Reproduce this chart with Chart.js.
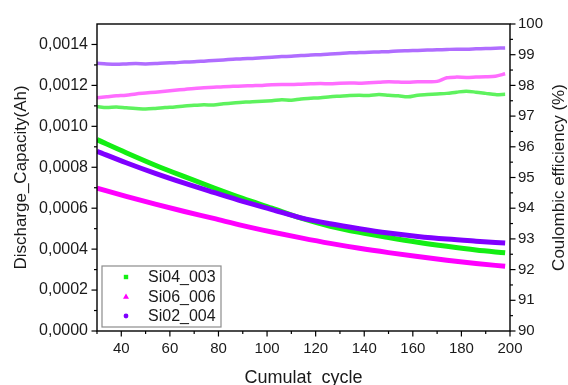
<!DOCTYPE html>
<html>
<head>
<meta charset="utf-8">
<script src="https://cdn.jsdelivr.net/npm/chart.js@4.4.1/dist/chart.umd.min.js"></script>
<style>
  html, body { margin: 0; padding: 0; background: #fff; }
  canvas { display: block; }
</style>
</head>
<body>
<canvas id="chart" width="568" height="385"></canvas>
<script>
// Cell names
const seriesNames = ['Si04_003', 'Si06_006', 'Si02_004'];

// Discharge capacity (Ah) vs cumulative cycle
const capCycles = [30, 42, 54, 66, 78, 90, 102, 114, 126, 138, 150, 162, 174, 186, 198];
const capSi04 = [0.000935, 0.000871, 0.000810, 0.000754, 0.000700, 0.000648, 0.000600, 0.000551, 0.000512, 0.000482, 0.000457, 0.000434, 0.000414, 0.000396, 0.000382];
const capSi06 = [0.000698, 0.000658, 0.000620, 0.000584, 0.000550, 0.000515, 0.000484, 0.000455, 0.000428, 0.000404, 0.000383, 0.000364, 0.000346, 0.000330, 0.000316];
const capSi02 = [0.000878, 0.000822, 0.000770, 0.000722, 0.000677, 0.000633, 0.000593, 0.000553, 0.000524, 0.000500, 0.000479, 0.000462, 0.000449, 0.000439, 0.000430];

// Coulombic efficiency (%) vs cumulative cycle
const ceCycles = [30, 34, 38, 42, 46, 50, 54, 58, 62, 66, 70, 74, 78, 82, 86, 90, 94, 98, 102, 106, 110, 114, 118, 122, 126, 130, 134, 138, 142, 146, 150, 154, 158, 162, 166, 170, 174, 178, 182, 186, 190, 194, 198];
const ceSi04 = [97.31, 97.28, 97.30, 97.27, 97.25, 97.23, 97.25, 97.28, 97.30, 97.33, 97.35, 97.37, 97.36, 97.40, 97.43, 97.45, 97.47, 97.48, 97.50, 97.53, 97.52, 97.56, 97.58, 97.60, 97.63, 97.65, 97.67, 97.68, 97.67, 97.70, 97.68, 97.66, 97.63, 97.68, 97.70, 97.72, 97.74, 97.78, 97.81, 97.78, 97.74, 97.70, 97.71];
const ceSi06 = [97.60, 97.63, 97.66, 97.68, 97.72, 97.75, 97.78, 97.81, 97.84, 97.87, 97.90, 97.92, 97.94, 97.96, 97.97, 97.98, 97.99, 98.00, 98.02, 98.03, 98.03, 98.04, 98.05, 98.06, 98.05, 98.07, 98.08, 98.07, 98.09, 98.10, 98.12, 98.11, 98.10, 98.12, 98.12, 98.13, 98.25, 98.27, 98.26, 98.27, 98.28, 98.30, 98.38];
const ceSi02 = [98.72, 98.70, 98.69, 98.70, 98.71, 98.70, 98.71, 98.73, 98.74, 98.76, 98.77, 98.79, 98.81, 98.83, 98.85, 98.87, 98.88, 98.90, 98.92, 98.94, 98.95, 98.97, 98.99, 99.00, 99.02, 99.04, 99.06, 99.07, 99.08, 99.09, 99.10, 99.12, 99.13, 99.14, 99.15, 99.16, 99.17, 99.18, 99.18, 99.19, 99.20, 99.21, 99.22];

// Axis tick values
const cycleTicks = [40, 60, 80, 100, 120, 140, 160, 180, 200];
const capTicks = [0, 0.0002, 0.0004, 0.0006, 0.0008, 0.0010, 0.0012, 0.0014];
const ceTicks = [90, 91, 92, 93, 94, 95, 96, 97, 98, 99, 100];

const colors = ['#14ee14', '#ff00ff', '#7f00ff'];
const ceColors = ['rgba(40,238,40,0.75)', 'rgba(255,60,255,0.75)', 'rgba(150,60,255,0.75)'];
const markerStyles = ['rect', 'triangle', 'circle'];

const FONT = "'Liberation Sans', Arial, sans-serif";
const TEXT = '#1a1a1a';
Chart.defaults.font.family = FONT;
Chart.defaults.color = TEXT;

const toPoints = (xs, ys) => xs.map((x, i) => ({ x, y: ys[i] }));

const capSeries = [capSi04, capSi06, capSi02];
const ceSeries = [ceSi04, ceSi06, ceSi02];

const datasets = [];
// purple on top, then green, then magenta
const drawOrder = [1, 2, 0];
capSeries.forEach((vals, i) => {
  datasets.push({
    label: seriesNames[i],
    data: toPoints(capCycles, vals),
    yAxisID: 'yCap',
    borderColor: colors[i],
    borderWidth: 5,
    pointRadius: 0,
    cubicInterpolationMode: 'monotone',
    order: drawOrder[i]
  });
});
ceSeries.forEach((vals, i) => {
  datasets.push({
    label: seriesNames[i] + ' CE',
    data: toPoints(ceCycles, vals),
    yAxisID: 'yCE',
    borderColor: ceColors[i],
    borderWidth: 3.5,
    pointRadius: 0,
    tension: 0.3,
    order: 3 + drawOrder[i]
  });
});

function midpoints(arr) {
  const out = [];
  for (let i = 0; i < arr.length - 1; i++) out.push((arr[i] + arr[i + 1]) / 2);
  return out;
}

// Frame plus outward major/minor tick marks
const axisFrame = {
  id: 'axisFrame',
  afterDatasetsDraw(chart) {
    const { ctx, chartArea: a, scales } = chart;
    ctx.save();
    ctx.strokeStyle = '#000';
    ctx.lineWidth = 1.4;
    ctx.strokeRect(a.left, a.top, a.right - a.left, a.bottom - a.top);
    ctx.lineWidth = 1.2;
    const seg = (x1, y1, x2, y2) => { ctx.beginPath(); ctx.moveTo(x1, y1); ctx.lineTo(x2, y2); ctx.stroke(); };
    const xMinor = [30].concat(midpoints(cycleTicks));
    cycleTicks.forEach(v => { const p = scales.x.getPixelForValue(v); seg(p, a.bottom, p, a.bottom + 5.5); });
    xMinor.forEach(v => { const p = scales.x.getPixelForValue(v); seg(p, a.bottom, p, a.bottom + 3); });
    capTicks.forEach(v => { const p = scales.yCap.getPixelForValue(v); seg(a.left, p, a.left - 5.5, p); });
    midpoints(capTicks).forEach(v => { const p = scales.yCap.getPixelForValue(v); seg(a.left, p, a.left - 3, p); });
    ceTicks.forEach(v => { const p = scales.yCE.getPixelForValue(v); seg(a.right, p, a.right + 5.5, p); });
    midpoints(ceTicks).forEach(v => { const p = scales.yCE.getPixelForValue(v); seg(a.right, p, a.right + 3, p); });
    ctx.restore();
  }
};

// Right-hand axis title, read bottom to top
const rightTitle = {
  id: 'rightTitle',
  afterDraw(chart) {
    const { ctx, chartArea: a } = chart;
    ctx.save();
    ctx.translate(559, (a.top + a.bottom) / 2);
    ctx.rotate(-Math.PI / 2);
    ctx.font = '17px ' + FONT;
    ctx.fillStyle = TEXT;
    ctx.textAlign = 'center';
    ctx.textBaseline = 'middle';
    ctx.fillText('Coulombic efficiency (%)', 0, 0);
    ctx.restore();
  }
};

// Legend box in the lower-left corner of the plot
const insetLegend = {
  id: 'insetLegend',
  afterDraw(chart) {
    const { ctx, chartArea: a } = chart;
    const x0 = a.left + 5, y0 = a.bottom - 65, w = 119, h = 61;
    ctx.save();
    ctx.fillStyle = '#fff';
    ctx.fillRect(x0, y0, w, h);
    ctx.strokeStyle = '#8c8c8c';
    ctx.lineWidth = 1.2;
    ctx.strokeRect(x0, y0, w, h);
    ctx.font = '16px ' + FONT;
    ctx.textBaseline = 'middle';
    ctx.textAlign = 'left';
    seriesNames.forEach((name, i) => {
      const cy = y0 + 11 + i * 19.5;
      const mx = x0 + 24;
      ctx.fillStyle = colors[i];
      ctx.beginPath();
      if (markerStyles[i] === 'rect') {
        ctx.rect(mx - 2.2, cy - 2.2, 4.4, 4.4);
      } else if (markerStyles[i] === 'triangle') {
        ctx.moveTo(mx, cy - 3);
        ctx.lineTo(mx + 3, cy + 2.2);
        ctx.lineTo(mx - 3, cy + 2.2);
        ctx.closePath();
      } else {
        ctx.arc(mx, cy, 2.4, 0, Math.PI * 2);
      }
      ctx.fill();
      ctx.fillStyle = TEXT;
      ctx.fillText(name, x0 + 46, cy + 1);
    });
    ctx.restore();
  }
};

new Chart(document.getElementById('chart'), {
  type: 'line',
  data: { datasets },
  options: {
    responsive: false,
    animation: false,
    events: [],
    layout: { autoPadding: false, padding: { top: 24, left: 0, right: 0, bottom: 0 } },
    plugins: { legend: { display: false }, tooltip: { enabled: false } },
    scales: {
      x: {
        type: 'linear',
        position: 'bottom',
        min: 30,
        max: 200,
        afterBuildTicks: s => { s.ticks = cycleTicks.map(v => ({ value: v })); },
        afterFit: s => { s.height = 54; },
        grid: { display: false, drawTicks: false },
        border: { display: false },
        ticks: { padding: 9, font: { size: 15 }, color: TEXT, maxRotation: 0, autoSkip: false },
        title: { display: true, text: 'Cumulat  cycle', font: { size: 18 }, color: TEXT, padding: { top: 0, bottom: -3.5 } }
      },
      yCap: {
        type: 'linear',
        position: 'left',
        min: 0,
        max: 0.0015,
        afterBuildTicks: s => { s.ticks = capTicks.map(v => ({ value: v })); },
        afterFit: s => { s.width = 97; },
        grid: { display: false, drawTicks: false },
        border: { display: false },
        ticks: { padding: 9, font: { size: 16 }, color: TEXT, autoSkip: false, callback: v => v.toFixed(4).replace('.', ',') },
        title: { display: true, text: 'Discharge_Capacity(Ah)', font: { size: 17 }, color: TEXT, padding: { top: 11, bottom: 0 } }
      },
      yCE: {
        type: 'linear',
        position: 'right',
        min: 90,
        max: 100,
        afterBuildTicks: s => { s.ticks = ceTicks.map(v => ({ value: v })); },
        afterFit: s => { s.width = 58; },
        grid: { display: false, drawTicks: false },
        border: { display: false },
        ticks: { padding: 8, font: { size: 15 }, color: TEXT, autoSkip: false },
        title: { display: false }
      }
    }
  },
  plugins: [axisFrame, rightTitle, insetLegend]
});
</script>
</body>
</html>
